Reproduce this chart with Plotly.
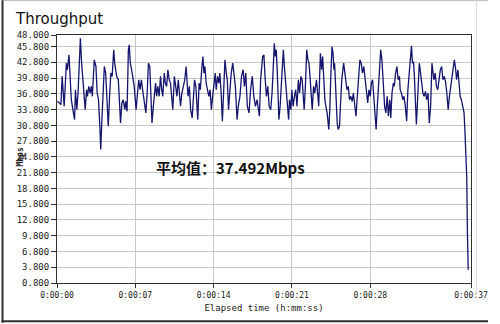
import plotly.graph_objects as go

# ---- data ----
elapsed_s = [
    0.05, 0.35, 0.46, 0.64, 0.84, 0.93, 1.07, 1.16, 1.28, 1.42, 1.57, 1.65, 1.77, 1.88, 2.09, 2.20, 2.32, 2.41, 2.52, 2.64,
    2.72, 2.84, 2.96, 3.07, 3.16, 3.33, 3.48, 3.59, 3.71, 3.83, 3.91, 4.00, 4.12, 4.23, 4.35, 4.46, 4.58, 4.70, 4.81, 4.93,
    5.07, 5.16, 5.33, 5.48, 5.57, 5.68, 5.80,
    5.91, 6.06, 6.14, 6.26, 6.38, 6.46, 6.55, 6.67, 6.78, 6.90, 7.07, 7.19, 7.30, 7.42, 7.54, 7.65, 7.77, 7.94, 8.06, 8.17,
    8.29, 8.38, 8.49, 8.61, 8.72, 8.81, 8.90, 9.01, 9.13, 9.25, 9.36, 9.45, 9.59, 9.68, 9.80, 9.91, 10.03, 10.14, 10.35, 10.49,
    10.61, 10.72, 10.84, 10.96, 11.04, 11.16, 11.30, 11.42, 11.54, 11.71, 11.83, 11.94, 12.08,
    12.29, 12.41, 12.58, 12.70, 12.81, 12.93, 13.04, 13.13, 13.22, 13.33, 13.45, 13.57, 13.68, 13.80, 13.91, 14.03, 14.14,
    14.23, 14.35, 14.46, 14.55, 14.67, 14.78, 14.90, 15.01, 15.13, 15.22, 15.33, 15.45, 15.57, 15.71, 15.83, 15.94, 16.09,
    16.20, 16.35, 16.49, 16.64, 16.75, 16.87, 17.01, 17.16, 17.30, 17.45, 17.59, 17.74, 17.88, 18.09, 18.20, 18.38, 18.49,
    18.61, 18.72, 18.84, 18.96, 19.10, 19.22, 19.33, 19.42, 19.51, 19.59, 19.68, 19.77, 19.83, 19.94, 20.03, 20.12, 20.23,
    20.32, 20.43, 20.52, 20.70, 20.78, 20.90, 20.99, 21.10, 21.22, 21.33, 21.45, 21.57, 21.68, 21.80, 21.91, 22.09, 22.20,
    22.32, 22.43, 22.52, 22.61, 22.72, 22.81, 22.93, 23.04, 23.19, 23.30, 23.39, 23.54, 23.65, 23.74, 23.83, 23.94, 24.03,
    24.14, 24.29, 24.38, 24.49, 24.58,
    24.67, 24.75, 24.81, 24.93, 25.04, 25.13, 25.25, 25.33, 25.45, 25.62, 25.71, 25.80, 25.91, 26.03, 26.14, 26.26, 26.38,
    26.49, 26.61, 26.72, 26.84, 26.96, 27.07, 27.19, 27.30, 27.42, 27.54, 27.65, 27.77, 27.88, 28.00, 28.09, 28.20, 28.29,
    28.41, 28.52, 28.61, 28.70, 28.81, 28.93, 29.04, 29.16, 29.28, 29.39, 29.51, 29.62, 29.74, 29.83, 29.94, 30.06, 30.14,
    30.26, 30.38, 30.49, 30.61,
    30.67, 30.78, 30.90, 31.01, 31.13, 31.25, 31.36, 31.48, 31.59, 31.68, 31.77, 31.86, 31.94, 32.03, 32.12, 32.20, 32.29,
    32.38, 32.46, 32.58, 32.70, 32.81, 32.93, 33.04, 33.16, 33.27, 33.39, 33.51, 33.59, 33.68, 33.80, 33.91, 34.03, 34.14,
    34.26, 34.38, 34.49, 34.61, 34.72, 34.84, 34.96, 35.07, 35.19, 35.30, 35.42, 35.51, 35.62, 35.71, 35.83, 35.94, 36.03,
    36.14, 36.26, 36.38, 36.45, 36.52, 36.58, 36.62, 36.68, 36.75,
]
throughput_mbps = [
    35.4, 34.75, 40.12, 34.43, 42.64, 41.38, 44.22, 40.75, 35.69, 33.80, 31.90, 37.59, 33.80, 36.96, 47.38, 42.64, 38.85, 37.59, 33.80, 37.59,
    36.33, 38.22, 36.96, 38.22, 36.33, 43.27, 42.01, 36.96, 35.69, 30.64, 26.22, 31.27, 36.96, 42.01, 40.75, 35.69, 30.64, 36.33, 40.75, 40.12,
    45.17, 42.64, 40.12, 39.48, 35.06, 31.27, 35.06,
    35.69, 33.80, 35.38, 33.48, 45.17, 46.12, 42.64, 41.38, 40.12, 38.22, 33.80, 36.33, 39.48, 37.59, 39.48, 37.59, 35.69, 33.17, 36.96, 42.64,
    42.01, 38.22, 31.27, 34.43, 36.33, 38.85, 36.33, 38.22, 36.33, 40.12, 37.59, 36.33, 40.75, 38.85, 38.22, 41.38, 39.48, 38.85, 33.80, 40.12,
    38.22, 36.33, 39.48, 35.69, 34.43, 36.96, 38.22, 39.48, 42.01, 36.33, 38.22, 33.80, 32.22,
    39.48, 38.22, 31.90, 38.85, 37.59, 41.38, 43.91, 40.75, 42.01, 38.85, 37.59, 36.33, 37.59, 33.80, 36.33, 39.48, 40.75,
    37.59, 40.12, 38.85, 40.75, 36.96, 31.59, 37.59, 43.27, 40.75, 39.48, 33.80, 37.59, 40.75, 42.64, 40.12, 38.22, 31.90,
    34.43, 36.33, 40.12, 41.38, 38.22, 40.75, 34.43, 33.17, 37.59, 40.12, 36.33, 34.43, 35.69, 32.54, 39.48, 43.91, 44.22,
    39.48, 36.33, 38.22, 34.43, 33.80, 36.96, 42.01, 46.43, 43.91, 45.17, 41.38, 36.33, 31.90, 34.43, 37.59, 40.75, 45.17,
    42.01, 38.85, 36.33, 31.90, 35.69, 33.80, 37.59, 34.43, 36.33, 37.59, 34.43, 39.48, 36.96, 40.12, 39.48, 33.80, 38.22,
    45.17, 43.27, 42.64, 40.12, 36.33, 33.80, 38.22, 36.96, 39.48, 35.69, 34.43, 44.54, 41.38, 43.91, 39.48, 35.69, 34.43,
    33.17, 30.01, 33.80, 41.38, 45.80,
    44.54, 41.38, 42.64, 36.33, 31.27, 30.01, 30.64, 34.43, 39.48, 42.64, 40.75, 39.48, 37.59, 38.22, 35.69, 36.33, 35.38,
    36.96, 35.06, 32.54, 36.33, 40.75, 43.27, 42.64, 40.75, 42.01, 39.48, 36.33, 35.06, 37.59, 36.33, 38.85, 39.48, 36.96,
    33.80, 30.01, 33.80, 37.59, 42.64, 45.17, 43.27, 39.48, 34.43, 33.17, 36.33, 32.54, 35.69, 32.22, 36.96, 38.85, 38.22,
    40.75, 42.01, 39.48, 40.12,
    37.59, 36.96, 35.69, 36.33, 34.43, 31.59, 37.59, 41.38, 45.17, 45.93, 42.64, 42.96, 40.12, 36.33, 30.96, 34.43, 39.48,
    42.64, 41.38, 39.48, 36.96, 36.33, 37.27, 35.69, 36.96, 31.27, 34.43, 42.64, 40.75, 39.48, 40.75, 38.22, 37.59, 39.48,
    41.38, 42.01, 39.48, 40.12, 39.17, 36.96, 33.80, 36.33, 38.22, 40.12, 41.38, 43.27, 41.69, 39.48, 41.38, 37.59, 36.33,
    35.69, 34.43, 33.17, 30.0, 26.0, 21.5, 21.0, 10.5, 3.3,
]
y_tick_values = [0.8, 3.8, 6.8, 9.8, 12.8, 15.8, 18.8, 21.8, 24.8, 27.8, 30.8, 33.8, 36.8, 39.8, 42.8, 45.8, 48.0]
x_tick_values = [0, 7, 14, 21, 28, 37]
x_tick_labels = ["0:00:00", "0:00:07", "0:00:14", "0:00:21", "0:00:28", "0:00:37"]
average_label = "平均值：37.492Mbps"

W, H = 500, 324
L, R, T, B = 57, 482.5, 35, 284


def fx(px):
    return (px - L) / (R - L)


def fy(py):
    return (B - py) / (B - T)


fig = go.Figure()
fig.add_trace(go.Scatter(
    x=elapsed_s, y=throughput_mbps, mode="lines",
    line=dict(color="#15156e", width=1.3), showlegend=False, hoverinfo="skip",
))

mono = "DejaVu Sans Mono"
fig.update_layout(
    width=W, height=H,
    margin=dict(l=L, r=W - R, t=T, b=H - B, pad=0),
    paper_bgcolor="white", plot_bgcolor="white",
    title=dict(text="Throughput", x=16 / W, xanchor="left", xref="container",
               y=1 - 18.5 / H, yanchor="middle", yref="container",
               font=dict(family="DejaVu Sans", size=15, color="#111111")),
    xaxis=dict(range=[0, 37], tickvals=x_tick_values, ticktext=x_tick_labels,
               showgrid=True, gridcolor="#c8c8c8", gridwidth=1, zeroline=False,
               showline=True, linecolor="#303030", linewidth=1, mirror=True,
               ticks="outside", ticklen=4, tickcolor="#303030",
               tickfont=dict(family=mono, size=8, color="#222222"),
               title=dict(text="Elapsed time (h:mm:ss)", standoff=6,
                          font=dict(family=mono, size=9, color="#222222"))),
    yaxis=dict(range=[0.8, 48], tickvals=y_tick_values, tickformat=".3f",
               showgrid=True, gridcolor="#c8c8c8", gridwidth=1, zeroline=False,
               showline=True, linecolor="#303030", linewidth=1, mirror=True,
               ticks="outside", ticklen=5, tickcolor="#303030",
               tickfont=dict(family=mono, size=9, color="#222222")),
    font=dict(family=mono, color="#222222"),
)

fig.add_annotation(text="<b>Mbps</b>", textangle=-90, x=fx(19), y=fy(158), xref="paper", yref="paper",
                   xanchor="center", yanchor="middle", showarrow=False,
                   font=dict(family=mono, size=8, color="#222222"))
fig.add_annotation(text="<b>" + average_label + "</b>", x=fx(157), y=fy(168), xref="paper", yref="paper",
                   xanchor="left", yanchor="middle", showarrow=False,
                   font=dict(family="Noto Sans CJK SC", size=15, color="#111111"))

# outer frame
frame = [
    (fx(0), fy(0.5), fx(W), fy(0.5), "#b8b8b8", 1),
    (fx(1), fy(0), fx(1), fy(H), "#303030", 2),
    (fx(0), fy(322.5), fx(W), fy(322.5), "#303030", 2),
    (fx(488), fy(0), fx(488), fy(300), "#dcdcdc", 1),
]
for x0, y0, x1, y1, c, w in frame:
    fig.add_shape(type="line", xref="paper", yref="paper", x0=x0, y0=y0, x1=x1, y1=y1,
                  line=dict(color=c, width=w), layer="above")

fig.write_html("out.html")
